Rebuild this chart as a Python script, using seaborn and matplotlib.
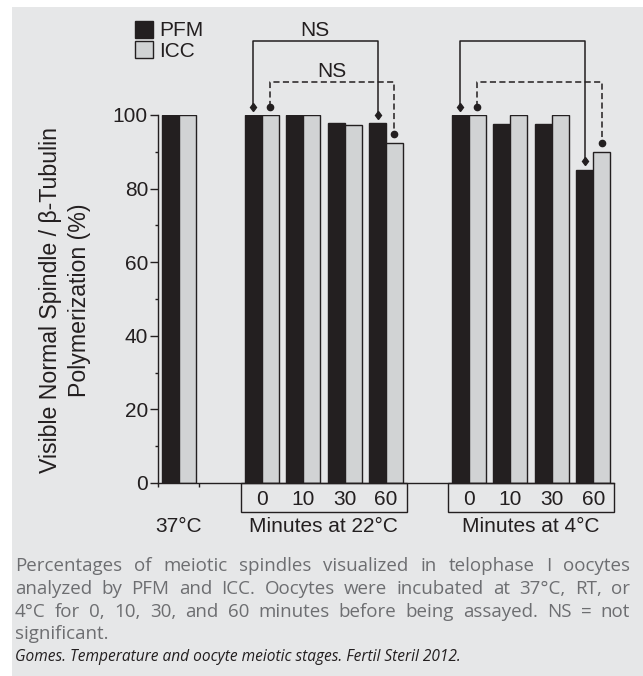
import numpy as np
import pandas as pd
import seaborn as sns
import matplotlib.pyplot as plt
from matplotlib.patches import Rectangle

# bar slots: 37C, gap, 22C x4, gap, 4C x4
slots = [0, 2, 3, 4, 5, 7, 8, 9, 10]
pfm = [100, 100, 100, 97.7, 97.7, 100, 97.6, 97.6, 85.1]
icc = [100, 100, 100, 97.4, 92.5, 100, 100, 100, 90.0]
methods = ['PFM', 'ICC']
colors = ['#231f20', '#d1d3d4']
minutes = ['0', '10', '30', '60']
group_labels = ['37°C', 'Minutes at 22°C', 'Minutes at 4°C']
group_centers = [0, 3.5, 8.5]
caption = [
    "Percentages of meiotic spindles visualized in telophase I oocytes",
    "analyzed by PFM and ICC. Oocytes were incubated at 37°C, RT, or",
    "4°C for 0, 10, 30, and 60 minutes before being assayed. NS = not",
]
caption_last = "significant."
credit = "Gomes. Temperature and oocyte meiotic stages. Fertil Steril 2012."

df = pd.DataFrame({
    'slot': slots + slots,
    'value': pfm + icc,
    'method': [methods[0]] * len(slots) + [methods[1]] * len(slots),
})

sns.set_theme(style='ticks')
plt.rcParams['font.family'] = ['Liberation Sans', 'DejaVu Sans']
ink = '#231f20'
fs = 15

W, H = 643, 676
fig = plt.figure(figsize=(W / 100, H / 100), dpi=100)
fig.add_artist(Rectangle((12 / W, 0), 1, 1 - 7 / H, transform=fig.transFigure,
                         facecolor='#e6e7e8', edgecolor='none', zorder=-10))

ax = fig.add_axes([158 / W, 1 - 483 / H, (614 - 158) / W, (483 - 115) / H])
ax.set_facecolor('none')
sns.barplot(data=df, x='slot', y='value', hue='method', hue_order=methods,
            palette=dict(zip(methods, colors)), native_scale=True, width=0.82,
            saturation=1, edgecolor=ink, linewidth=1.0, errorbar=None,
            legend=False, ax=ax)
ax.set_xlim(-0.5, 10.5)
ax.set_ylim(0, 100)
ax.set_xlabel('')
ax.set_ylabel('')

ax.set_yticks([0, 20, 40, 60, 80, 100])
ax.set_yticks([10, 30, 50, 70, 90], minor=True)
ax.tick_params(axis='y', which='major', length=5.8, width=1.0, pad=1.4,
               labelsize=fs, color=ink, labelcolor=ink)
ax.tick_params(axis='y', which='minor', length=2.2, width=1.0, color=ink)
ax.set_xticks([-0.5, 0.5])
ax.set_xticklabels([])
ax.tick_params(axis='x', length=3, width=1.0, color=ink)
sns.despine(ax=ax)
for s in ['left', 'bottom']:
    ax.spines[s].set_linewidth(1.0)
    ax.spines[s].set_color(ink)

# boxes with minute labels under the two timed groups
box_h = 7.9
for x0, x1 in [(1.5, 5.5), (6.5, 10.5)]:
    ax.add_patch(Rectangle((x0, -box_h), x1 - x0, box_h, fill=False,
                           edgecolor=ink, lw=1.0, clip_on=False))
for s, m in zip(slots[1:], minutes * 2):
    ax.text(s, -6.0, m, ha='center', va='baseline', fontsize=fs, color=ink, clip_on=False)
for c, lab in zip(group_centers, group_labels):
    ax.text(c, -13.4, lab, ha='center', va='baseline', fontsize=fs, color=ink, clip_on=False)

# significance brackets
off = 0.205
def bracket(i, j, vals, ytop, ls, marker, ms, shift, label=None, label_y=None):
    xa, xb = slots[i] + shift, slots[j] + shift
    ya, yb = vals[i] + 2.3, vals[j] + 2.3
    kw = dict(dashes=(4, 2.2)) if ls == '--' else {}
    ax.plot([xa, xa, xb, xb], [ya, ytop, ytop, yb], color=ink, lw=1.1,
            clip_on=False, **kw)
    ax.plot([xa, xb], [ya, yb], ls='none', marker=marker, ms=ms, color=ink, clip_on=False)
    if label:
        ax.text((xa + xb) / 2, label_y, label, ha='center', va='baseline',
                fontsize=fs, color=ink, clip_on=False)

bracket(1, 4, pfm, 120.1, '-', 'd', 4.5, -off, 'NS', 121.4)
bracket(1, 4, icc, 109.1, '--', 'o', 4.5, off, 'NS', 110.4)
bracket(5, 8, icc, 109.1, '--', 'o', 4.5, off)
bracket(5, 8, pfm, 120.1, '-', 'd', 4.5, -off)

# legend squares
for i, (lab, col) in enumerate(zip(methods, colors)):
    top = 20.5 + 20.5 * i
    fig.add_artist(Rectangle((135 / W, 1 - (top + 17) / H), 18 / W, 17 / H,
                             transform=fig.transFigure, facecolor=col,
                             edgecolor=ink, lw=1.0))
    fig.text(159 / W, 1 - (top + 16) / H, lab, va='baseline', fontsize=fs, color=ink)

fig.text(65 / W, 1 - 300 / H, 'Visible Normal Spindle / β-Tubulin\nPolymerization (%)',
         rotation=90, ha='center', va='center', multialignment='center',
         fontsize=16.7, color=ink, linespacing=1.35)

# caption, justified lines
cap_font = dict(family=['Open Sans', 'DejaVu Sans'], fontsize=13.5, color='#6d6e71')
renderer = fig.canvas.get_renderer()
x_left, x_right = 15, 630
baselines = [571, 594, 617]
for line, yb in zip(caption, baselines):
    words = line.split()
    arts = [fig.text(0, 1 - yb / H, w, va='baseline', **cap_font) for w in words]
    widths = [a.get_window_extent(renderer).width for a in arts]
    gap = (x_right - x_left - sum(widths)) / (len(words) - 1)
    x = x_left
    for a, w in zip(arts, widths):
        a.set_x(x / W)
        x += w + gap
fig.text(x_left / W, 1 - 639 / H, caption_last, va='baseline', **cap_font)
fig.text(x_left / W, 1 - 661 / H, credit, va='baseline', style='italic',
         family=['Open Sans', 'DejaVu Sans'], fontsize=11.2, color=ink)

fig.savefig('out.png', dpi=100)
